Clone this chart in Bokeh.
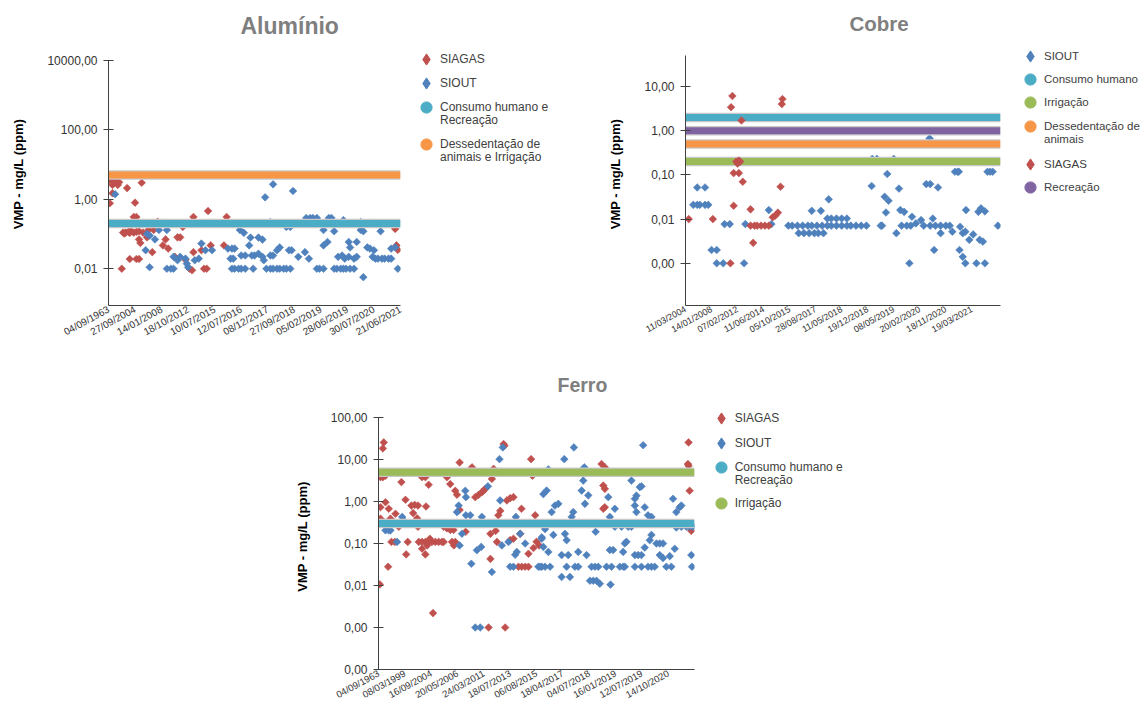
import math
from bokeh.plotting import figure
from bokeh.layouts import column, row
from bokeh.models import (Range1d, FixedTicker, CustomJSTickFormatter, Legend,
                          LegendItem)
from bokeh.embed import file_html
from bokeh.resources import INLINE

# ------------------------------------------------------------------ data
# x = sample slot (one axis label every 20 slots), y = concentration (mg/L)
AL_DATES = ["04/09/1963", "27/09/2004", "14/01/2008", "18/10/2012", "10/07/2015",
            "12/07/2016", "08/12/2017", "27/09/2018", "05/02/2019", "28/06/2019",
            "30/07/2020", "21/06/2021"]
AL_SLOTS = 220
AL_SIAGAS = [(1, 3.6), (2, 3.8), (4, 3.7), (6, 3.3), (8, 3.1), (3, 2.6), (7, 2.6), (14, 2.1),
             (25, 3.0), (3, 1.5), (1, 0.77), (20, 0.8), (19, 0.31), (21, 0.31), (11, 0.11),
             (13, 0.11), (15, 0.115), (17, 0.12), (19, 0.11), (21, 0.115), (23, 0.12), (26, 0.11),
             (12, 0.103), (16, 0.108), (64, 0.31), (75, 0.46), (89, 0.31), (29, 0.08), (24, 0.055),
             (23, 0.07), (33, 0.03), (43, 0.07), (41, 0.047), (45, 0.038), (52, 0.08), (54, 0.08),
             (56, 0.16), (16, 0.019), (21, 0.019), (23, 0.019), (10, 0.01), (61, 0.01), (63, 0.009),
             (72, 0.01), (74, 0.01), (64, 0.03), (70, 0.034), (77, 0.047), (87, 0.047), (58, 0.018),
             (30, 0.13), (34, 0.13), (37, 0.225), (50, 0.022), (216, 0.14), (217, 0.047), (218, 0.035)]
AL_SIOUT = [(5, 1.4), (29, 0.1), (31, 0.09), (35, 0.07), (38, 0.13), (44, 0.13), (28, 0.034),
            (31, 0.011), (49, 0.022), (52, 0.0175), (54, 0.022), (58, 0.0195), (59, 0.014),
            (60, 0.011), (44, 0.01), (47, 0.01), (49, 0.01), (65, 0.0175), (68, 0.0195), (70, 0.053),
            (73, 0.034), (78, 0.034), (90, 0.038), (93, 0.038), (95, 0.038), (92, 0.0195),
            (94, 0.0195), (93, 0.01), (95, 0.01), (98, 0.01), (100, 0.01), (103, 0.01), (109, 0.01),
            (99, 0.13), (102, 0.108), (107, 0.079), (106, 0.047), (113, 0.079), (116, 0.069),
            (100, 0.024), (103, 0.024), (108, 0.024), (110, 0.024), (113, 0.027), (116, 0.022),
            (117, 0.0175), (118, 1.14), (124, 2.7), (139, 1.74), (119, 0.01), (122, 0.01),
            (124, 0.01), (127, 0.01), (129, 0.01), (132, 0.01), (134, 0.01), (137, 0.01),
            (122, 0.024), (124, 0.024), (127, 0.034), (129, 0.041), (134, 0.16), (137, 0.16),
            (136, 0.034), (138, 0.034), (143, 0.022), (148, 0.03), (151, 0.0195), (149, 0.29),
            (152, 0.29), (154, 0.29), (157, 0.29), (166, 0.29), (168, 0.29), (177, 0.25),
            (157, 0.01), (159, 0.01), (162, 0.01), (170, 0.01), (172, 0.01), (175, 0.01),
            (177, 0.01), (179, 0.01), (182, 0.01), (185, 0.01), (162, 0.13), (170, 0.12),
            (165, 0.059), (162, 0.047), (173, 0.022), (176, 0.024), (178, 0.0195), (181, 0.022),
            (185, 0.0195), (187, 0.022), (181, 0.059), (182, 0.041), (187, 0.059), (190, 0.13),
            (192, 0.12), (192, 0.0057), (195, 0.041), (197, 0.038), (200, 0.034), (199, 0.022),
            (201, 0.0195), (203, 0.0195), (206, 0.0195), (208, 0.0195), (211, 0.0195),
            (213, 0.0195), (205, 0.12), (213, 0.038), (216, 0.041), (218, 0.01), (40, 0.21),
            (60, 0.2), (80, 0.21), (122, 0.22), (190, 0.22), (200, 0.21)]
AL_LIMITS = [("Consumo humano e\nRecreação", 0.2), ("Dessedentação de\nanimais e Irrigação", 5.0)]

CU_DATES = ["11/03/2004", "14/01/2008", "07/02/2012", "11/06/2014", "05/10/2015",
            "28/08/2017", "11/05/2018", "19/12/2018", "08/05/2019", "20/02/2020",
            "18/11/2020", "19/03/2021"]
CU_SLOTS = 242
CU_SIAGAS = [(36, 6.1), (35, 3.4), (43, 1.7), (39, 0.2), (41, 0.21), (42, 0.2), (40, 0.18),
             (37, 0.11), (41, 0.11), (44, 0.07), (37, 0.02), (2.5, 0.01), (21, 0.01), (34.5, 0.001),
             (50, 0.0166), (52, 0.0029), (50, 0.0071), (53, 0.0071), (55, 0.0071), (58, 0.0071),
             (61, 0.0071), (64, 0.0071), (67, 0.011), (69, 0.012), (71, 0.014), (73, 0.054),
             (74, 4.0), (74.5, 5.2)]
CU_SIOUT = [(9, 0.052), (15, 0.052), (6, 0.021), (9, 0.021), (11, 0.021), (15, 0.021),
            (17.5, 0.021), (20, 0.002), (24, 0.002), (24, 0.001), (29, 0.001), (30, 0.0077),
            (34, 0.0077), (45, 0.001), (46, 0.0077), (64, 0.016), (66, 0.0077), (79, 0.0071),
            (82, 0.0071), (86, 0.0071), (90, 0.0071), (94, 0.0071), (97, 0.0071), (101, 0.0071),
            (105, 0.0071), (109, 0.0071), (112, 0.0071), (116, 0.0071), (120, 0.0071),
            (124, 0.0071), (127, 0.0071), (131, 0.0071), (135, 0.0071), (139, 0.0071),
            (87, 0.0048), (91, 0.0048), (95, 0.0048), (99, 0.0048), (102, 0.0048), (106, 0.0048),
            (97, 0.0154), (104, 0.0154), (110, 0.028), (109, 0.0103), (112, 0.0103), (116, 0.0103),
            (120, 0.0103), (124, 0.0103), (143.5, 0.23), (147, 0.23), (160, 0.23), (143, 0.056),
            (155, 0.105), (164, 0.049), (151, 0.0071), (150, 0.0071), (153, 0.032), (156, 0.026),
            (154, 0.0141), (165, 0.016), (168, 0.0146), (174, 0.0113), (162, 0.0048), (166, 0.0071),
            (170, 0.0071), (173, 0.0071), (177, 0.008), (181, 0.0095), (183, 0.0071), (188, 0.0071),
            (192, 0.0071), (196, 0.0071), (200, 0.0071), (203, 0.0071), (172, 0.001), (187.5, 0.67),
            (185, 0.062), (188, 0.062), (194, 0.052), (190, 0.0103), (191, 0.002), (196, 0.0048),
            (205, 0.0052), (207, 0.118), (209, 0.118), (210, 0.118), (211, 0.0067), (213, 0.0048),
            (215, 0.0052), (218, 0.0034), (221, 0.0045), (210.5, 0.002), (213, 0.0014), (215, 0.001),
            (215.5, 0.016), (223.5, 0.001), (230, 0.001), (225, 0.0146), (227, 0.0175), (230, 0.015),
            (226, 0.0034), (228.5, 0.0031), (232, 0.118), (234, 0.118), (236, 0.118), (240, 0.0071)]
CU_LIMITS = [("Consumo humano", 2.0), ("Irrigação", 0.2), ("Dessedentação de\nanimais", 0.5),
             ("Recreação", 1.0)]

FE_DATES = ["04/09/1963", "08/03/1999", "16/09/2004", "20/05/2006", "24/03/2011",
            "18/07/2013", "06/08/2015", "18/04/2017", "04/07/2018", "16/01/2019",
            "12/07/2019", "14/10/2020"]
FE_SLOTS = 240
FE_SIAGAS = [(1, 0.0106), (4, 25.5), (3.3, 18.4), (1.5, 3.8), (3.3, 3.8), (5.3, 4.1), (5.3, 0.96),
             (1.5, 0.73), (7.8, 0.67), (12.9, 0.51), (15.4, 0.25), (9.1, 0.39), (1.5, 0.39),
             (7.3, 0.028), (9.8, 0.109), (12.4, 0.109), (17.4, 2.9), (20.5, 1.1), (25, 0.8),
             (27.5, 0.83), (30, 0.8), (26.3, 0.53), (29.3, 0.4), (22.2, 0.109), (21, 0.055),
             (30.6, 0.109), (33.1, 0.109), (33.1, 3.8), (35.6, 3.8), (38.1, 2.5), (36.1, 0.76),
             (30, 0.25), (28, 0.3), (33.1, 0.075), (35.6, 0.055), (35.6, 0.109), (38.1, 0.109),
             (40.6, 0.109), (43.2, 0.109), (45.7, 0.109), (48.2, 0.109), (49.5, 0.109), (37, 0.09),
             (39, 0.13), (41.4, 0.0022), (49.5, 0.25), (52, 0.23), (54.5, 0.21), (57, 0.21),
             (52, 3.8), (54.5, 2.6), (58.3, 1.8), (59.6, 1.45), (61.6, 8.5), (71, 6.5), (61.6, 0.63),
             (66.2, 0.19), (57.3, 0.09), (58.3, 0.109), (55.8, 0.109), (73.5, 1.27), (76, 1.44),
             (78.5, 1.66), (79.8, 1.8), (81, 2.0), (87.4, 6.0), (86.1, 3.45), (85, 0.17),
             (85, 0.043), (90, 0.109), (89, 0.2), (91, 0.47), (92.5, 0.6), (83.6, 0.001),
             (96.2, 0.001), (95, 23.3), (95.7, 21.2), (97.5, 1.06), (100, 1.2), (102.5, 1.27),
             (100, 0.12), (102.5, 0.13), (108.6, 0.67), (107.6, 0.17), (113.9, 0.057),
             (117.7, 0.078), (106.3, 0.028), (108.8, 0.028), (111.4, 0.028), (113.9, 0.028),
             (115.9, 10.2), (116.9, 4.1), (119, 0.47), (120, 0.11), (122, 0.09), (169.4, 7.8),
             (171.9, 6.5), (170.7, 2.4), (171.9, 2.0), (170.7, 0.67), (171.9, 0.73), (235.5, 25.5),
             (235, 7.8), (235.5, 7.1), (236.3, 1.8), (237.5, 0.2)]
FE_SIOUT = [(5.3, 0.206), (7.8, 0.206), (9.1, 0.206), (14.1, 0.109), (18, 0.43), (19.2, 0.35),
            (59.6, 0.56), (60.9, 0.8), (65.9, 1.8), (66.4, 1.27), (63.4, 0.171), (61.6, 0.09),
            (69.7, 0.47), (66.4, 0.47), (70.5, 0.033), (78.5, 0.43), (78, 0.083), (74.7, 0.069),
            (83.1, 2.3), (86.1, 0.021), (73.5, 0.001), (77.3, 0.001), (91.9, 10.2), (94.4, 19.4),
            (92.4, 1.06), (93.7, 0.09), (98.7, 0.109), (100, 0.028), (102.5, 0.028), (103.8, 0.054),
            (105, 0.063), (111.4, 0.1), (107.6, 0.171), (104.3, 0.43), (121.4, 0.028), (124, 0.028),
            (125.2, 1.5), (124, 0.13), (125.2, 0.083), (122.7, 0.028), (126.5, 0.028),
            (130.3, 0.028), (127.7, 1.82), (131.5, 0.56), (134, 0.8), (136.6, 0.88), (126.5, 0.22),
            (124, 0.14), (132.8, 0.16), (129, 0.063), (139.1, 0.053), (144.1, 0.053), (141.1, 10.2),
            (139.1, 0.016), (145.4, 0.016), (148.4, 19.4), (141.6, 0.17), (142.9, 0.12),
            (142.9, 0.028), (149.2, 0.028), (151.7, 0.028), (147.9, 0.56), (146.7, 0.43),
            (151.7, 0.063), (154.3, 1.82), (155.5, 3.15), (156.3, 6.5), (156.8, 0.88), (159.3, 1.4),
            (158, 0.053), (161.8, 0.028), (164.4, 0.028), (166.9, 0.028), (160.6, 0.013),
            (163.1, 0.013), (165.6, 0.013), (168.1, 0.011), (164.9, 0.19), (173.2, 0.028),
            (177, 0.028), (174.5, 1.27), (179.5, 0.67), (175.7, 0.43), (175.7, 0.07),
            (176.2, 0.0105), (178.2, 0.07), (179.5, 0.25), (184.6, 0.25), (189.6, 0.25),
            (192.1, 0.25), (187.1, 0.1), (188.3, 0.11), (185.8, 0.063), (187.1, 0.028),
            (183.3, 0.028), (185.8, 0.028), (192.1, 3.15), (194.7, 1.16), (195.9, 1.38),
            (198.4, 2.2), (199.7, 2.3), (195.9, 0.56), (194.7, 0.8), (201, 21.9), (202.2, 0.73),
            (194.7, 0.053), (197.2, 0.053), (199.7, 0.053), (194.7, 0.028), (199.7, 0.028),
            (204.7, 0.028), (207.3, 0.028), (209.8, 0.028), (202.2, 0.08), (207.3, 0.16),
            (206, 0.12), (211.1, 0.1), (213.6, 0.1), (216.1, 0.1), (204.7, 0.47), (207.3, 0.43),
            (213.6, 0.053), (216.1, 0.045), (221.2, 0.05), (218.6, 0.028), (222.4, 0.028),
            (223.7, 1.16), (226.2, 0.56), (228.7, 0.73), (230, 0.8), (225, 0.075), (226.2, 0.24),
            (230, 0.25), (233.8, 0.25), (236.3, 0.25), (238.8, 0.25), (237.6, 0.053),
            (238.1, 0.028), (129, 5.8), (155, 4.6)]
FE_LIMITS = [("Consumo humano e\nRecreação", 0.3), ("Irrigação", 5.0)]

# ------------------------------------------------------------------ style
RED, BLUE = "#c0504d", "#4f81bd"
CYAN, ORANGE, GREEN, PURPLE = "#4bacc6", "#f79646", "#9bbb59", "#8064a2"
FONT = "Liberation Sans"
STEP = 20


def log_range(anchor_val, anchor_px, decade_px, top_px, bottom_px):
    """Value range of a log axis whose frame spans top_px..bottom_px (pixels)."""
    hi = anchor_val * 10 ** ((anchor_px - top_px) / decade_px)
    lo = anchor_val * 10 ** ((anchor_px - bottom_px) / decade_px)
    return lo, hi


def make_chart(title, dates, slots, yscale, axis_top, y_ticks, layers, size, borders,
               title_style, xfs):
    w, h = size
    bl, br, bt, bb = borders
    y_lo, y_hi = yscale
    t_size, t_offset, t_standoff = title_style
    p = figure(width=w, height=h, x_range=Range1d(0, slots), y_range=Range1d(y_lo, y_hi),
               y_axis_type="log", output_backend="svg", toolbar_location=None,
               min_border_left=bl, min_border_right=br, min_border_top=bt,
               min_border_bottom=bb, title=title)
    p.outline_line_color = None
    p.grid.visible = False
    p.title.align = "left"
    p.title.offset = t_offset
    p.title.standoff = t_standoff
    p.title.vertical_align = "top"
    p.title.text_font = FONT
    p.title.text_font_size = t_size
    p.title.text_font_style = "bold"
    p.title.text_color = "#7f7f7f"

    ya = p.yaxis[0]
    ya.bounds = (y_lo, axis_top)
    ya.ticker = FixedTicker(ticks=y_ticks)
    ya.formatter = CustomJSTickFormatter(code="return tick.toFixed(2).replace('.', ',');")
    ya.major_tick_out = 5
    ya.major_tick_in = 5
    ya.minor_tick_out = 0
    ya.minor_tick_in = 0
    ya.major_label_standoff = 6
    ya.major_label_text_font = FONT
    ya.major_label_text_font_size = "12px"
    ya.major_label_text_color = "#333333"
    ya.axis_line_color = "#404040"
    ya.major_tick_line_color = "#404040"
    ya.axis_label = "VMP - mg/L (ppm)"
    ya.axis_label_text_font = FONT
    ya.axis_label_text_font_size = "13px"
    ya.axis_label_text_font_style = "bold"
    ya.axis_label_text_color = "#000000"
    ya.axis_label_standoff = 18

    xa = p.xaxis[0]
    xa.ticker = FixedTicker(ticks=[i * STEP for i in range(len(dates))])
    xa.major_label_overrides = {i * STEP: d for i, d in enumerate(dates)}
    xa.major_label_orientation = 0.5
    xa.major_tick_out = 0
    xa.major_tick_in = 0
    xa.minor_tick_out = 0
    xa.minor_tick_in = 0
    xa.major_label_standoff = 3
    xa.major_label_text_font = FONT
    xa.major_label_text_font_size = xfs
    xa.major_label_text_color = "#333333"
    xa.axis_line_color = "#404040"

    rows = []
    for kind, name, data, color in layers:
        if kind == "points":
            xs = [a for a, b in data]
            ys = [b for a, b in data]
            p.scatter(xs, ys, marker="square", angle=math.pi / 4, size=5.4,
                      fill_color=color, line_color=color, line_width=0.6)
            glyph = "diamond"
        else:
            xs = [0, slots]
            ys = [data, data]
            p.line(xs, ys, line_width=9.5, line_color="#c8c8c8")
            p.line(xs, ys, line_width=7, line_color=color)
            glyph = "circle"
        parts = name.split("\n")
        rows.append((parts[0], glyph, color))
        for extra in parts[1:]:
            rows.append((extra, None, color))
    return p, rows


def make_legend(rows, size, borders, left, frame_bottom, cx, rows_y, standoff, fs):
    """Legend panel beside a chart; rows_y are the row centres in page pixels."""
    w, h = size
    bt, bb = borders
    q = figure(width=w, height=h, x_range=Range1d(0, 1), y_range=Range1d(0, 1),
               x_axis_location=None, y_axis_location=None, output_backend="svg",
               toolbar_location=None, min_border_left=0, min_border_right=0,
               min_border_top=bt, min_border_bottom=bb)
    q.outline_line_color = None
    q.grid.visible = False
    gs = 28
    for (text, glyph, color), cy in zip(rows, rows_y):
        if glyph is None:
            r = q.scatter([-5], [-5], marker="circle", fill_alpha=0, line_alpha=0)
        else:
            r = q.scatter([-5], [-5], marker=glyph, fill_color=color, line_color=color)
        lg = Legend(items=[LegendItem(label=text, renderers=[r])],
                    location=(cx - gs / 2 - left, frame_bottom - cy - gs / 2),
                    glyph_width=gs, glyph_height=gs, label_height=gs, padding=0, margin=0,
                    spacing=0, label_standoff=standoff,
                    border_line_color=None, background_fill_alpha=0, label_text_font=FONT,
                    label_text_font_size=fs, label_text_color="#404040")
        q.add_layout(lg)
    return q


# top row: frames share top/bottom (42 .. 305), bottom row: 403 .. 669 (page pixels)
TOP_H, BOT_H = 345, 362
T1, B1 = 42, 305
T2, B2 = 403, 669

p_al, al_rows = make_chart("Alumínio", AL_DATES, AL_SLOTS, log_range(10000, 60, 34.7, T1, B1),
                           10000, [0.01, 1, 100, 10000],
                           [("points", "SIAGAS", AL_SIAGAS, RED),
                            ("points", "SIOUT", AL_SIOUT, BLUE),
                            ("limit", AL_LIMITS[0][0], AL_LIMITS[0][1], CYAN),
                            ("limit", AL_LIMITS[1][0], AL_LIMITS[1][1], ORANGE)],
                           (410, TOP_H), (108, 10, T1, TOP_H - B1), ("23px", 132, 4), "10px")
l_al = make_legend(al_rows, (195, TOP_H), (T1, TOP_H - B1), 410, B1, 426,
                   [59, 83, 107, 120, 144, 157], 0, "12px")

p_cu, cu_rows = make_chart("Cobre", CU_DATES, CU_SLOTS, log_range(10, 86, 44.2, T1, B1),
                           50, [0.001, 0.01, 0.1, 1, 10],
                           [("points", "SIOUT", CU_SIOUT, BLUE),
                            ("limit", CU_LIMITS[0][0], CU_LIMITS[0][1], CYAN),
                            ("limit", CU_LIMITS[1][0], CU_LIMITS[1][1], GREEN),
                            ("limit", CU_LIMITS[2][0], CU_LIMITS[2][1], ORANGE),
                            ("points", "SIAGAS", CU_SIAGAS, RED),
                            ("limit", CU_LIMITS[3][0], CU_LIMITS[3][1], PURPLE)],
                           (405, TOP_H), (72, 10, T1, TOP_H - B1), ("20.5px", 164, 12), "9px")
l_cu = make_legend(cu_rows, (132, TOP_H), (T1, TOP_H - B1), 1010, B1, 1030,
                   [56, 79, 102, 126, 139, 164, 187], -5, "11.5px")

p_fe, fe_rows = make_chart("Ferro", FE_DATES, FE_SLOTS, log_range(100, 417, 42.0, T2, B2),
                           100, [0.0001, 0.001, 0.01, 0.1, 1, 10, 100],
                           [("points", "SIAGAS", FE_SIAGAS, RED),
                            ("points", "SIOUT", FE_SIOUT, BLUE),
                            ("limit", FE_LIMITS[0][0], FE_LIMITS[0][1], CYAN),
                            ("limit", FE_LIMITS[1][0], FE_LIMITS[1][1], GREEN)],
                           (704, BOT_H), (378, 10, T2 - TOP_H, TOP_H + BOT_H - B2),
                           ("19.5px", 179, 11), "9.5px")
l_fe = make_legend(fe_rows, (170, BOT_H), (T2 - TOP_H, TOP_H + BOT_H - B2), 704, B2, 720.7,
                   [418, 443, 467, 480, 503], 0, "12px")

layout = column(row(p_al, l_al, p_cu, l_cu), row(p_fe, l_fe))
open("out.html", "w", encoding="utf-8").write(file_html(layout, INLINE, title="VMP"))
